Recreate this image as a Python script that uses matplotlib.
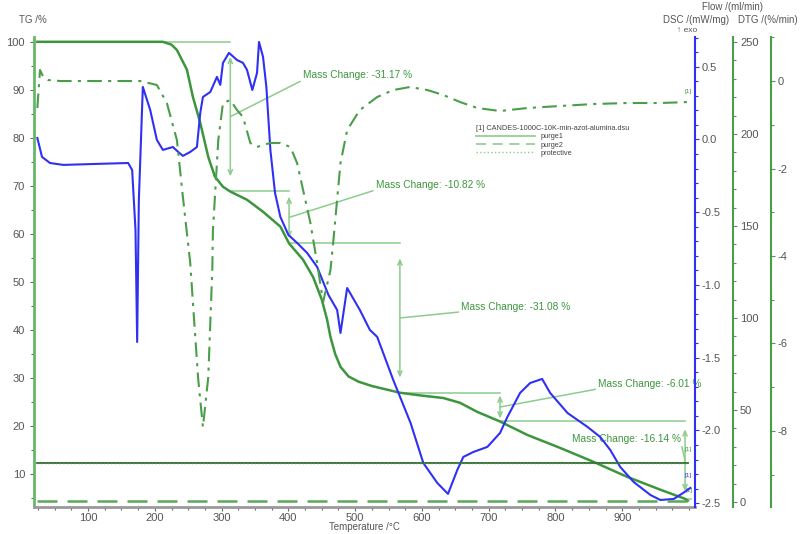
import numpy as np
import matplotlib.pyplot as plt
from matplotlib.ticker import MultipleLocator, FixedLocator
from matplotlib.lines import Line2D

plt.rcParams['font.family'] = ['Liberation Sans', 'DejaVu Sans']
plt.rcParams['axes.unicode_minus'] = False

# TG curve /%
T_tg = [24, 212, 225, 233, 248, 257, 268, 280, 290, 302, 313, 338, 362, 388, 401,
        422, 437, 450, 458, 463, 470, 478, 490, 505, 525, 567, 600, 632, 657, 683,
        717, 758, 807, 857, 907, 957, 994, 998]
tg = [100, 100, 99.4, 98.3, 94.2, 88.5, 83.1, 76.0, 71.9, 69.8, 68.8, 67.1, 64.6, 61.5, 58.0,
      54.6, 51.0, 46.3, 42.1, 38.5, 35.0, 32.3, 30.3, 29.2, 28.3, 26.9, 26.3, 25.8, 24.8, 22.9,
      20.9, 18.1, 15.4, 12.5, 9.4, 6.7, 4.8, 4.4]

# DSC curve /(mW/mg)
T_dsc = [24, 31, 43, 63, 114, 160, 166, 171, 173.5, 176, 182, 193, 203, 212, 227, 235,
         242, 253, 263, 268, 272, 283, 293, 298, 302, 311, 323, 332, 338, 346, 353, 356,
         362, 367, 373, 380, 388, 400, 413, 428, 443, 460, 473, 478, 488, 507, 522, 533,
         557, 583, 602, 623, 639, 653, 662, 677, 698, 717, 728, 747, 762, 780, 792, 818,
         848, 867, 882, 897, 917, 942, 957, 977, 991, 1002]
dsc = [0.01, -0.12, -0.162, -0.175, -0.168, -0.162, -0.21, -0.622, -1.392, -0.42, 0.361,
       0.203, -0.003, -0.072, -0.052, -0.086, -0.113, -0.086, -0.052, 0.182, 0.292, 0.326,
       0.43, 0.375, 0.526, 0.595, 0.546, 0.526, 0.478, 0.34, 0.457, 0.67, 0.567, 0.361,
       -0.072, -0.368, -0.533, -0.656, -0.711, -0.78, -0.876, -1.069, -1.172, -1.33, -1.021,
       -1.172, -1.309, -1.357, -1.653, -1.949, -2.223, -2.361, -2.436, -2.271, -2.182, -2.148,
       -2.113, -2.017, -1.907, -1.742, -1.674, -1.646, -1.742, -1.88, -1.976, -2.045, -2.134,
       -2.251, -2.354, -2.443, -2.478, -2.471, -2.43, -2.395]

# DTG curve /(%/min)
T_dtg = [24, 28, 33, 40, 58, 178, 203, 218, 233, 242, 253, 257, 265, 272, 280, 286, 287,
         295, 302, 313, 323, 332, 343, 353, 362, 373, 388, 403, 413, 422, 433, 443, 452,
         463, 467, 478, 488, 507, 533, 557, 582, 608, 632, 657, 683, 717, 758, 807, 857,
         907, 957, 999]
dtg = [-0.617, 0.251, 0.091, 0.023, 0.0, 0.0, -0.091, -0.503, -1.349, -2.651, -4.16, -5.07,
       -6.83, -7.91, -6.77, -4.32, -3.41, -1.349, -0.503, -0.434, -0.663, -0.823, -1.417,
       -1.509, -1.463, -1.417, -1.417, -1.509, -1.874, -2.491, -3.246, -4.16, -5.051, -4.32,
       -3.703, -1.874, -1.12, -0.663, -0.366, -0.206, -0.137, -0.206, -0.32, -0.48, -0.617,
       -0.686, -0.617, -0.571, -0.526, -0.503, -0.503, -0.48]

# Gas flows /(ml/min)
T_flow = [24, 998]
purge1 = [21.2, 21.2]
purge2 = [0.3, 0.3]
protective = [21.2, 21.2]

# Mass change evaluation: step temperatures and mass losses
T_steps = [24, 313, 401, 567, 717, 994, 1003]
mass_change = [-31.17, -10.82, -31.08, -6.01, -16.14]
levels = 100 + np.concatenate([[0], np.cumsum(mass_change)])

# where the "Mass Change" texts sit (T, TG)
label_pos = [(422, 93.1), (531, 70.2), (659, 44.8), (864, 28.75), (825, 17.3)]

green = '#3d963d'
light = '#8ccc8c'
blue = '#3030f5'
grey = '#555555'

fig = plt.figure(figsize=(8, 5.34), dpi=100)
ax = fig.add_axes([0.0425, 0.0506, 0.8263, 0.8801])
ax2 = ax.twinx()
ax3 = ax.twinx()
ax4 = ax.twinx()

# mass change steps: reference lines, arrows and texts
for k in range(len(levels)):
    ax.plot([T_steps[k], T_steps[k + 1]], [levels[k], levels[k]], color=light, lw=1.1)
for k, v in enumerate(mass_change):
    hi, lo = levels[k], levels[k + 1]
    d = hi - lo
    ax.annotate('', xy=(T_steps[k + 1], lo + 0.1 * d), xytext=(T_steps[k + 1], hi - 0.1 * d),
                arrowprops=dict(arrowstyle='<->,head_length=0.35,head_width=0.15',
                                color=light, lw=1.1, shrinkA=0, shrinkB=0))
    rel = (1, 0) if k == 4 else (0, 0)
    ax.annotate('Mass Change: %.2f %%' % v, xy=(T_steps[k + 1], (hi + lo) / 2),
                xytext=label_pos[k], ha='left', va='center', color=green, fontsize=7.3,
                arrowprops=dict(arrowstyle='-', color=light, lw=1.1, relpos=rel,
                                shrinkA=0, shrinkB=0))

# TG
ax.plot(T_tg, tg, color=green, lw=1.8, zorder=3)
ax.set_xlim(19, 1009)
ax.set_ylim(3.1, 101.0)

# DSC
ax2.plot(T_dsc, dsc, color=blue, lw=1.5)
ax2.set_ylim(-2.526, 0.704)

# gas flows
ax3.plot(T_flow, purge1, color='#2e6b2e', lw=1.3)
ax3.plot(T_flow, purge2, color='#5aa85a', lw=1.8, dashes=(8, 4))
ax3.plot(T_flow, protective, color='#4f8f4f', lw=1.0, ls=':')
ax3.set_ylim(-2.7, 252.7)

# DTG
ax4.plot(T_dtg, dtg, color='#4a9e4a', lw=1.5, dashes=(7, 3, 1.5, 3))
ax4.set_ylim(-9.737, 1.006)

# little [1] tags at curve ends
ax4.text(998, -0.3, '[1]', color=green, fontsize=4.5, ha='center', va='bottom')
ax3.text(998, 27, '[1]', color=green, fontsize=4.5, ha='center', va='bottom')
ax2.text(998, -2.33, '[1]', color=blue, fontsize=4.5, ha='center', va='bottom')
ax.text(1000, 6.0, '[1]', color=green, fontsize=4.5, ha='center', va='bottom')

# axes styling
for a in (ax, ax2, ax3, ax4):
    for s in ('top', 'left', 'bottom', 'right'):
        a.spines[s].set_visible(False)

ax.spines['left'].set_visible(True)
ax.spines['left'].set_color('#66b866')
ax.spines['left'].set_linewidth(2)
ax.spines['bottom'].set_visible(True)
ax.spines['bottom'].set_color('#999999')
ax.spines['bottom'].set_linewidth(2)

ax.xaxis.set_major_locator(FixedLocator([100, 200, 300, 400, 500, 600, 700, 800, 900]))
ax.xaxis.set_minor_locator(MultipleLocator(25))
ax.yaxis.set_major_locator(FixedLocator([10, 20, 30, 40, 50, 60, 70, 80, 90, 100]))
ax.yaxis.set_minor_locator(MultipleLocator(5))
ax.tick_params(axis='both', which='both', colors='#666666', labelcolor=grey, labelsize=8)
ax.tick_params(which='major', length=3, width=0.8)
ax.tick_params(which='minor', length=2, width=0.8)
ax.tick_params(axis='x', pad=1.5)
ax.set_xlabel('Temperature /\u00b0C', fontsize=7, color=grey, labelpad=-1)

spine_info = [(ax2, 0, blue, MultipleLocator(0.5), MultipleLocator(0.1)),
              (ax3, 38, '#4a9e4a', FixedLocator([0, 50, 100, 150, 200, 250]), MultipleLocator(10)),
              (ax4, 76, '#4a9e4a', FixedLocator([-8, -6, -4, -2, 0]), MultipleLocator(1))]
for a, off, c, maj, mnr in spine_info:
    a.spines['right'].set_visible(True)
    a.spines['right'].set_position(('outward', off * 72 / 100))
    a.spines['right'].set_color(c)
    a.spines['right'].set_linewidth(1.5)
    a.yaxis.set_major_locator(maj)
    a.yaxis.set_minor_locator(mnr)
    a.tick_params(axis='y', which='both', colors=c, labelcolor=grey, labelsize=8, pad=2)
    a.tick_params(axis='y', which='major', length=3, width=0.8)
    a.tick_params(axis='y', which='minor', length=2, width=0.8)

# axis titles
fig.text(33 / 800, 1 - 20 / 534, 'TG /%', fontsize=7, color=grey, ha='center', va='center')
fig.text(733 / 800, 1 - 7 / 534, 'Flow /(ml/min)', fontsize=7, color=grey, ha='center', va='center')
fig.text(696 / 800, 1 - 20 / 534, 'DSC /(mW/mg)', fontsize=7, color=grey, ha='center', va='center')
fig.text(768 / 800, 1 - 20 / 534, 'DTG /(%/min)', fontsize=7, color=grey, ha='center', va='center')
fig.text(687 / 800, 1 - 31 / 534, '\u2191 exo', fontsize=6, color=grey, ha='center', va='center')

# legend of the gas flows
handles = [Line2D([], [], color=light, lw=1.2),
           Line2D([], [], color=light, lw=1.2, dashes=(6, 4)),
           Line2D([], [], color=light, lw=1.0, ls=':')]
leg = ax3.legend(handles, ['purge1', 'purge2', 'protective'],
                 title='[1] CANDES-1000C-10K-min-azot-alumina.dsu', title_fontsize=5.3,
                 fontsize=5.3, frameon=False, loc='upper left',
                 bbox_to_anchor=(476 / 800, 1 - 125 / 534), bbox_transform=fig.transFigure,
                 handlelength=8, handletextpad=0.8, labelspacing=0.15, borderpad=0,
                 borderaxespad=0, alignment='left')
for t in leg.get_texts():
    t.set_color('#444444')
leg.get_title().set_color('#444444')

fig.savefig('out.png', dpi=100)
